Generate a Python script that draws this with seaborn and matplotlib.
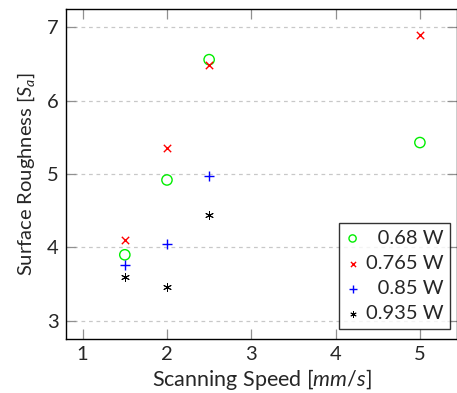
import matplotlib
matplotlib.use("Agg")
import matplotlib.pyplot as plt
import seaborn as sns
import pandas as pd

speed_a = [1.5, 2.0, 2.5, 5.0]
rough_068 = [3.90, 4.92, 6.56, 5.43]
rough_0765 = [4.10, 5.36, 6.49, 6.89]
speed_b = [1.5, 2.0, 2.5]
rough_085 = [3.76, 4.05, 4.97]
rough_0935 = [3.60, 3.46, 4.44]

labels = ["\u20070.68 W", "0.765 W", "\u20070.85 W", "0.935 W"]

sns.set_style("white")
plt.rcParams['font.family'] = ['Lato', 'DejaVu Sans']
plt.rcParams['mathtext.fontset'] = 'custom'
plt.rcParams['mathtext.rm'] = 'Lato'
plt.rcParams['mathtext.it'] = 'Lato:italic'

fig = plt.figure(figsize=(4.57, 3.93), dpi=100)
ax = fig.add_axes([0.144, 0.137, 0.856, 0.840])

df1 = pd.DataFrame({"speed": speed_a, "r": rough_068})
df2 = pd.DataFrame({"speed": speed_a, "r": rough_0765})
df3 = pd.DataFrame({"speed": speed_b, "r": rough_085})
df4 = pd.DataFrame({"speed": speed_b, "r": rough_0935})

sns.scatterplot(data=df1, x="speed", y="r", marker="o", s=55, color="#00ff00",
                facecolor="none", edgecolor="#00ee00", linewidth=1.0, label=labels[0], ax=ax)
sns.scatterplot(data=df2, x="speed", y="r", marker="x", s=28, color="red",
                linewidth=1.0, label=labels[1], ax=ax)
sns.scatterplot(data=df3, x="speed", y="r", marker="+", s=55, color="blue",
                linewidth=1.0, label=labels[2], ax=ax)
sns.scatterplot(data=df4, x="speed", y="r", marker=(6, 2, 0), s=32, color="black",
                linewidth=0.7, label=labels[3], ax=ax)

ax.set_xlim(0.8, 5.44)
ax.set_ylim(2.75, 7.25)
ax.set_xticks([1, 2, 3, 4, 5])
ax.set_yticks([3, 4, 5, 6, 7])
ax.yaxis.grid(True, linestyle=(0, (3, 3)), color="#c8c8c8", linewidth=0.9)
ax.xaxis.grid(False)

for s in ax.spines.values():
    s.set_color("black")
    s.set_linewidth(1.0)

ax.tick_params(direction="in", length=7, width=0.9, color="#909090",
               labelsize=14.5, top=True, right=True, bottom=True, left=True, pad=5)

ax.set_xlabel("Scanning Speed [$mm/s$]", fontsize=15.5, labelpad=3)
ax.set_ylabel("Surface Roughness [$S_a$]", fontsize=14.5, labelpad=7)

leg = ax.legend(loc="lower right", bbox_to_anchor=(0.983, 0.03), borderaxespad=0,
                fontsize=14.5, frameon=True, fancybox=False, edgecolor="black",
                handlelength=0.6, handletextpad=0.35, labelspacing=0.4,
                borderpad=0.35, markerscale=0.7)
leg.get_frame().set_linewidth(1.0)

fig.savefig("out.png", dpi=100)
